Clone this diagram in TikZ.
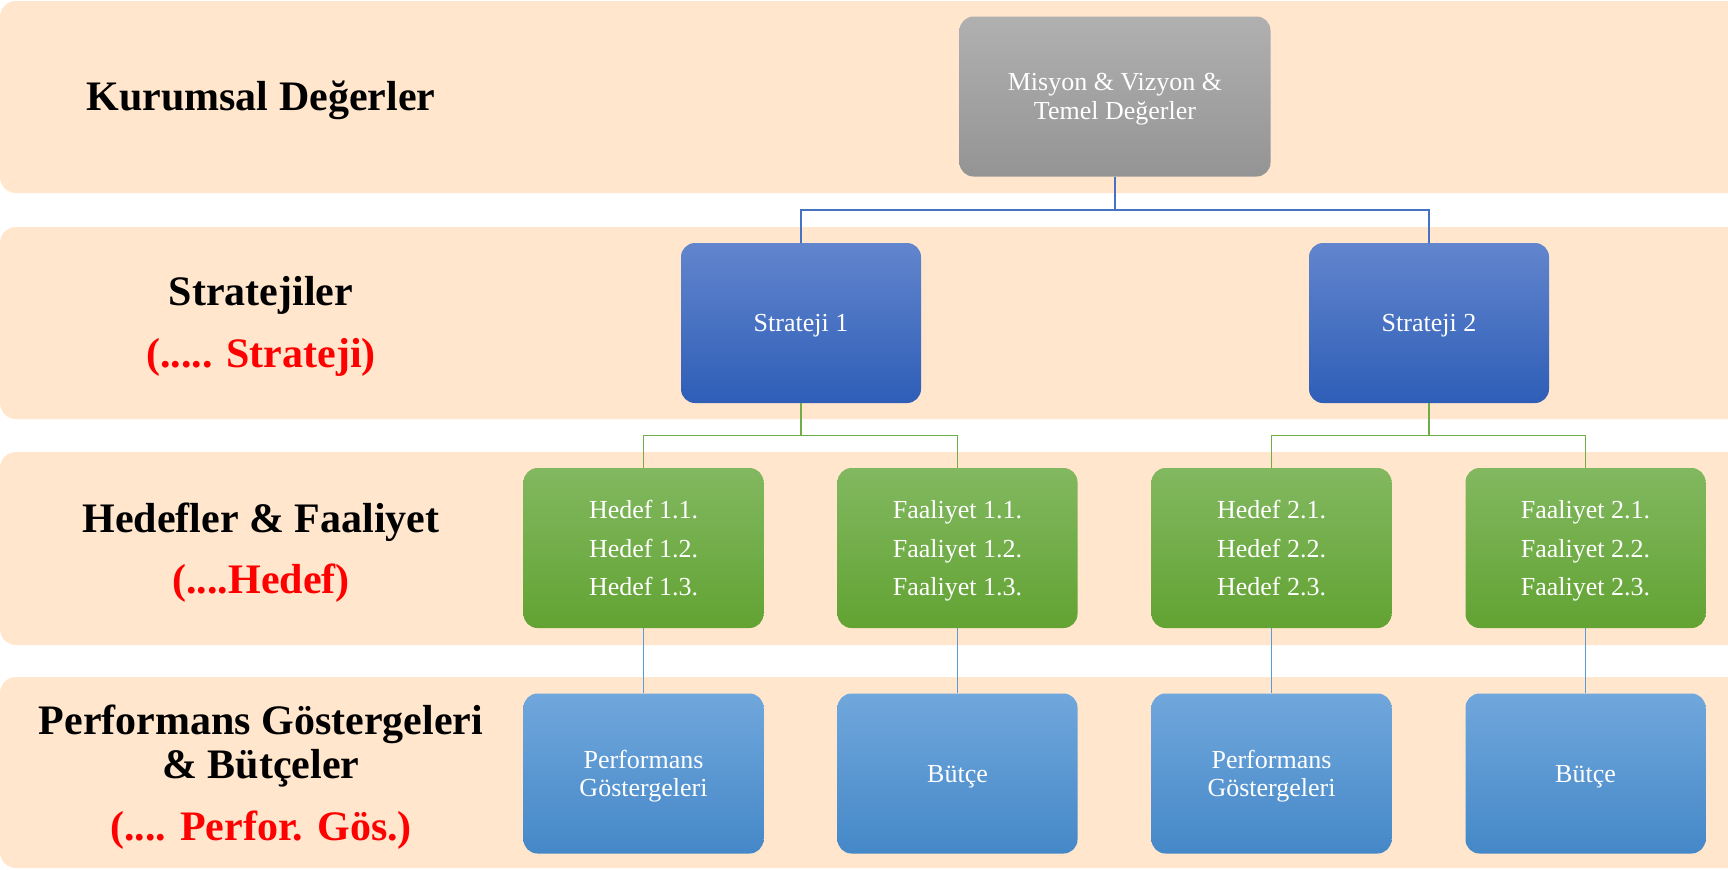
\documentclass[tikz,border=0pt]{standalone}
\usepackage{fontspec}
\setmainfont{Liberation Serif}
\usetikzlibrary{positioning}
\definecolor{bandfill}{RGB}{255,230,204}
\definecolor{graytop}{RGB}{176,176,176}
\definecolor{graybot}{RGB}{148,148,148}
\definecolor{strattop}{RGB}{98,133,205}
\definecolor{stratbot}{RGB}{46,94,183}
\definecolor{greentop}{RGB}{130,184,96}
\definecolor{greenbot}{RGB}{98,163,51}
\definecolor{skytop}{RGB}{112,167,220}
\definecolor{skybot}{RGB}{69,136,200}
\definecolor{lineblue}{RGB}{68,114,196}
\definecolor{linegreen}{RGB}{112,173,71}
\definecolor{linesky}{RGB}{91,155,213}

\begin{document}
\begin{tikzpicture}[x=0.5pt,y=-0.5pt]
	\tikzset{
	  BandStyle/.style = {fill=bandfill, rounded corners=8pt},
	  TitleStyle/.style = {font=\bfseries\fontsize{21}{22}\selectfont, align=center, anchor=base},
	  SubStyle/.style = {TitleStyle, text=red},
	  BoxStyle/.style = {rounded corners=7pt, minimum width=120pt, minimum height=80pt,
	                     inner sep=0pt, text=white, align=center, text depth=0pt,
	                     font=\fontsize{13}{14.3}\selectfont},
	  ValueBox/.style = {BoxStyle, minimum width=155.5pt, top color=graytop, bottom color=graybot},
	  StratBox/.style = {BoxStyle, top color=strattop, bottom color=stratbot},
	  GoalBox/.style = {BoxStyle, top color=greentop, bottom color=greenbot,
	                    font=\fontsize{13}{19.2}\selectfont},
	  KpiBox/.style = {BoxStyle, top color=skytop, bottom color=skybot},
	  EdgeA/.style = {draw=lineblue, line width=0.6pt},
	  EdgeB/.style = {draw=linegreen, line width=0.6pt},
	  EdgeC/.style = {draw=linesky, line width=0.6pt} }
	\useasboundingbox (0,0) rectangle (1728,869);
	\clip (0,0) rectangle (1728,869);
%	\draw[help lines] (0,0) grid[step=100] (1728,869);
	% bands
	\fill[BandStyle] (0,1) rectangle (1760,193);
	\fill[BandStyle] (0,227) rectangle (1760,419);
	\fill[BandStyle] (0,452) rectangle (1760,645);
	\fill[BandStyle] (0,677) rectangle (1760,868);
	% left titles
	\node[TitleStyle] (kd) at (261,110) {Kurumsal Değerler};
	\node[TitleStyle] (st) at (261,305) {Stratejiler};
	\node[SubStyle] (sts) at (261,367) {(..... Strateji)};
	\node[TitleStyle] (hf) at (261,532) {Hedefler \& Faaliyet};
	\node[SubStyle] (hfs) at (261,593) {(....Hedef)};
	\node[TitleStyle] (pg) at (261,778) {Performans Göstergeleri\\\& Bütçeler};
	\node[SubStyle] (pgs) at (261,840) {(.... Perfor. Gös.)};
	% boxes
	\node[ValueBox] (mvtd) at (1115,96.5) {Misyon \& Vizyon \&\\Temel Değerler};
	\node[StratBox] (s1) at (801,323) {Strateji 1};
	\node[StratBox] (s2) at (1429,323) {Strateji 2};
	\node[GoalBox] (h1) at (643.5,548) {Hedef 1.1.\\Hedef 1.2.\\Hedef 1.3.};
	\node[GoalBox] (f1) at (957.5,548) {Faaliyet 1.1.\\Faaliyet 1.2.\\Faaliyet 1.3.};
	\node[GoalBox] (h2) at (1271.5,548) {Hedef 2.1.\\Hedef 2.2.\\Hedef 2.3.};
	\node[GoalBox] (f2) at (1585.5,548) {Faaliyet 2.1.\\Faaliyet 2.2.\\Faaliyet 2.3.};
	\node[KpiBox] (p1) at (643.5,773.5) {Performans\\Göstergeleri};
	\node[KpiBox] (b1) at (957.5,773.5) {Bütçe};
	\node[KpiBox] (p2) at (1271.5,773.5) {Performans\\Göstergeleri};
	\node[KpiBox] (b2) at (1585.5,773.5) {Bütçe};
	% connectors
	\draw[EdgeA] (mvtd.south) -- ++(0,33) coordinate (mvfork) -| (s1.north);
	\draw[EdgeA] (mvfork) -| (s2.north);
	\draw[EdgeB] (s1.south) -- ++(0,32) coordinate (s1fork) -| (h1.north);
	\draw[EdgeB] (s1fork) -| (f1.north);
	\draw[EdgeB] (s2.south) -- ++(0,32) coordinate (s2fork) -| (h2.north);
	\draw[EdgeB] (s2fork) -| (f2.north);
	\draw[EdgeC] (h1.south) -- (p1.north);
	\draw[EdgeC] (f1.south) -- (b1.north);
	\draw[EdgeC] (h2.south) -- (p2.north);
	\draw[EdgeC] (f2.south) -- (b2.north);
\end{tikzpicture}
\end{document}
